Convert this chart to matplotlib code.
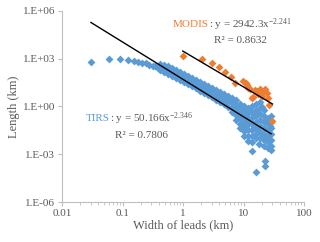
import numpy as np
import matplotlib
matplotlib.use("Agg")
from matplotlib import pyplot as plt
from matplotlib.ticker import LogLocator, FixedLocator, NullFormatter

plt.rcParams["font.family"] = ["Liberation Serif", "DejaVu Serif"]
plt.rcParams["mathtext.fontset"] = "custom"
plt.rcParams["mathtext.rm"] = "Liberation Serif"
plt.rcParams["mathtext.it"] = "Liberation Serif:italic"

BLUE = "#5B9BD5"
ORANGE = "#ED7D31"
GREY = "#595959"
AXIS = "#BFBFBF"

# TIRS leads: width (km), length (km)
tirs_width = [
    0.030, 0.0605, 0.091, 0.122, 0.155, 0.182, 0.212, 0.244, 0.277, 0.323, 0.35, 0.376,
    0.417, 0.417, 0.417,
    0.485, 0.485, 0.485,
    0.565, 0.565, 0.565,
    0.657, 0.657, 0.657,
    0.765, 0.765, 0.765,
    0.891, 0.891, 0.891,
    1.04, 1.04, 1.04,
    1.21, 1.21, 1.21,
    1.41, 1.41, 1.41,
    1.64, 1.64, 1.64,
    1.91, 1.91, 1.91,
    2.22, 2.22, 2.22,
    2.59, 2.59, 2.59,
    3.01, 3.01, 3.01,
    3.51, 3.51, 3.51,
    4.09, 4.09, 4.09,
    4.76, 4.76, 4.76,
    5.55, 5.55, 5.55,
    6.46, 6.46, 6.46, 6.46,
    7.52, 7.52, 7.52, 7.52, 7.52,
    8.75, 8.75, 8.75, 8.75, 8.75, 8.75,
    10.2, 10.2, 10.2, 10.2, 10.2, 10.2, 10.2,
    11.9, 11.9, 11.9, 11.9, 11.9, 11.9, 11.9,
    13.8, 13.8, 13.8, 13.8, 13.8, 13.8, 13.8,
    16.1, 16.1, 16.1, 16.1, 16.1, 16.1, 16.1,
    18.7, 18.7, 18.7, 18.7, 18.7, 18.7, 18.7,
    21.8, 21.8, 21.8, 21.8, 21.8, 21.8, 21.8,
    25.4, 25.4, 25.4, 25.4, 25.4, 25.4,
    28.5, 28.5, 28.5, 28.5, 28.5, 28.5, 28.5,
    9.4, 9.4, 9.4, 11.0, 11.0, 11.0, 12.8, 12.8, 14.9, 14.9, 17.4, 17.4,
    20.2, 20.2, 23.5, 23.5, 27.0, 27.0,
    13.8, 18.0, 22.7, 22.7, 16.1,
]
tirs_length = [
    630, 900, 900, 880, 760, 650, 565, 520, 425, 366, 340, 316,
    469, 303, 197,
    406, 228, 147,
    351, 197, 110,
    263, 147, 82.6,
    197, 110, 61.9,
    147, 82.6, 46.3,
    110, 61.9, 34.7,
    82.6, 46.3, 26.0,
    61.9, 34.7, 19.5,
    46.3, 26.0, 14.6,
    34.7, 19.5, 9.44,
    26.0, 14.6, 7.06,
    19.5, 10.9, 5.29,
    14.6, 8.17, 3.96,
    10.9, 5.29, 2.57,
    8.17, 3.96, 1.92,
    6.11, 2.97, 1.44,
    4.58, 2.22, 0.933,
    3.43, 1.66, 0.807, 0.453,
    2.57, 1.25, 0.604, 0.293, 0.142,
    1.44, 0.807, 0.392, 0.190, 0.0798, 0.0448,
    1.08, 0.523, 0.254, 0.123, 0.0597, 0.0290, 0.0141,
    0.807, 0.392, 0.190, 0.0798, 0.0335, 0.0141, 0.00683,
    1.08, 0.453, 0.190, 0.0798, 0.0335, 0.0141, 0.00590,
    1.44, 0.604, 0.254, 0.107, 0.0448, 0.0188, 0.0105,
    1.92, 0.807, 0.339, 0.142, 0.0597, 0.0251, 0.0105,
    0.604, 0.254, 0.107, 0.0448, 0.0188, 0.00789, 0.00331,
    0.190, 0.0798, 0.0335, 0.0141, 0.00590, 0.00248,
    0.254, 0.107, 0.0448, 0.0188, 0.00789, 0.00331, 0.00186,
    1.1, 0.45, 0.19, 0.7, 0.25, 0.06, 0.5, 0.1, 0.3, 0.05, 0.4, 0.03,
    0.9, 0.02, 0.15, 0.01, 0.06, 0.008,
    0.00161, 0.00443, 0.000378, 0.000184, 0.000077,
]

# MODIS leads: width (km), length (km)
modis_width = [
    0.99, 2.04, 3.05, 3.98, 4.94, 6.14, 7.24, 9.7, 11.0, 11.3, 11.9, 12.8,
    13.7, 14.5, 15.5, 16.5, 17.4, 18.7, 20.2, 21.2, 22.6, 24.2, 25.4, 26.7, 30.1,
]
modis_length = [
    1490, 925, 566, 318, 154, 68, 31, 42, 31, 22.5, 14.5, 12.1,
    3.3, 4.1, 11, 9.9, 6.1, 12.1, 4.6, 8.5, 12.6, 6.8, 3.4, 1.24, 0.123,
]

# power-law trendlines y = a * x^b
tirs_a, tirs_b, tirs_r2 = 50.166, -2.346, 0.7806
modis_a, modis_b, modis_r2 = 2942.3, -2.241, 0.8632

fig = plt.figure(figsize=(3.2, 2.42), dpi=100)
ax = fig.add_axes([0.194, 0.165, 0.756, 0.79])

ax.scatter(tirs_width, tirs_length, marker="D", s=16, color=BLUE, linewidths=0, zorder=2)
ax.scatter(modis_width, modis_length, marker="D", s=16, color=ORANGE, linewidths=0, zorder=3)

xt = np.array([min(tirs_width), max(tirs_width)])
ax.plot(xt, tirs_a * xt ** tirs_b, color="black", lw=1.0, zorder=4)
xm = np.array([min(modis_width), max(modis_width)])
ax.plot(xm, modis_a * xm ** modis_b, color="black", lw=1.0, zorder=4)

ax.set_xscale("log")
ax.set_yscale("log")
ax.set_xlim(0.01, 100)
ax.set_ylim(1e-6, 1e6)

ax.xaxis.set_major_locator(FixedLocator([0.01, 0.1, 1, 10, 100]))
ax.set_xticklabels(["0.01", "0.1", "1", "10", "100"])
ax.xaxis.set_minor_locator(LogLocator(base=10, subs=np.arange(2, 10)))
ax.xaxis.set_minor_formatter(NullFormatter())

yticks = [1e-6, 1e-3, 1, 1e3, 1e6]
ax.yaxis.set_major_locator(FixedLocator(yticks))
ax.set_yticklabels(["1.E-06", "1.E-03", "1.E+00", "1.E+03", "1.E+06"])
ax.yaxis.set_minor_locator(FixedLocator([]))

for side in ["top", "right"]:
    ax.spines[side].set_visible(False)
for side in ["left", "bottom"]:
    ax.spines[side].set_color(AXIS)
    ax.spines[side].set_linewidth(0.8)

ax.tick_params(which="major", length=3, width=0.8, color=AXIS, labelsize=8, labelcolor=GREY, pad=2)
ax.tick_params(which="minor", length=2, width=0.6, color=AXIS)

ax.set_xlabel("Width of leads (km)", fontsize=9, color=GREY, labelpad=1)
ax.set_ylabel("Length (km)", fontsize=9, color=GREY, labelpad=2)

# equation labels
ax.text(0.607, 0.927, "MODIS", color=ORANGE, fontsize=8, ha="right", va="center", transform=ax.transAxes)
ax.text(0.607, 0.927, ": y = %.1fx$^{%.3f}$" % (modis_a, modis_b), color=GREY, fontsize=8,
        ha="left", va="center", transform=ax.transAxes)
ax.text(0.736, 0.843, "R² = %.4f" % modis_r2, color=GREY, fontsize=8, ha="center", va="center",
        transform=ax.transAxes)

ax.text(0.198, 0.435, "TIRS", color=BLUE, fontsize=8, ha="right", va="center", transform=ax.transAxes)
ax.text(0.198, 0.435, ": y = %.3fx$^{%.3f}$" % (tirs_a, tirs_b), color=GREY, fontsize=8,
        ha="left", va="center", transform=ax.transAxes)
ax.text(0.33, 0.346, "R² = %.4f" % tirs_r2, color=GREY, fontsize=8, ha="center", va="center",
        transform=ax.transAxes)

fig.savefig("out.png", dpi=100)
